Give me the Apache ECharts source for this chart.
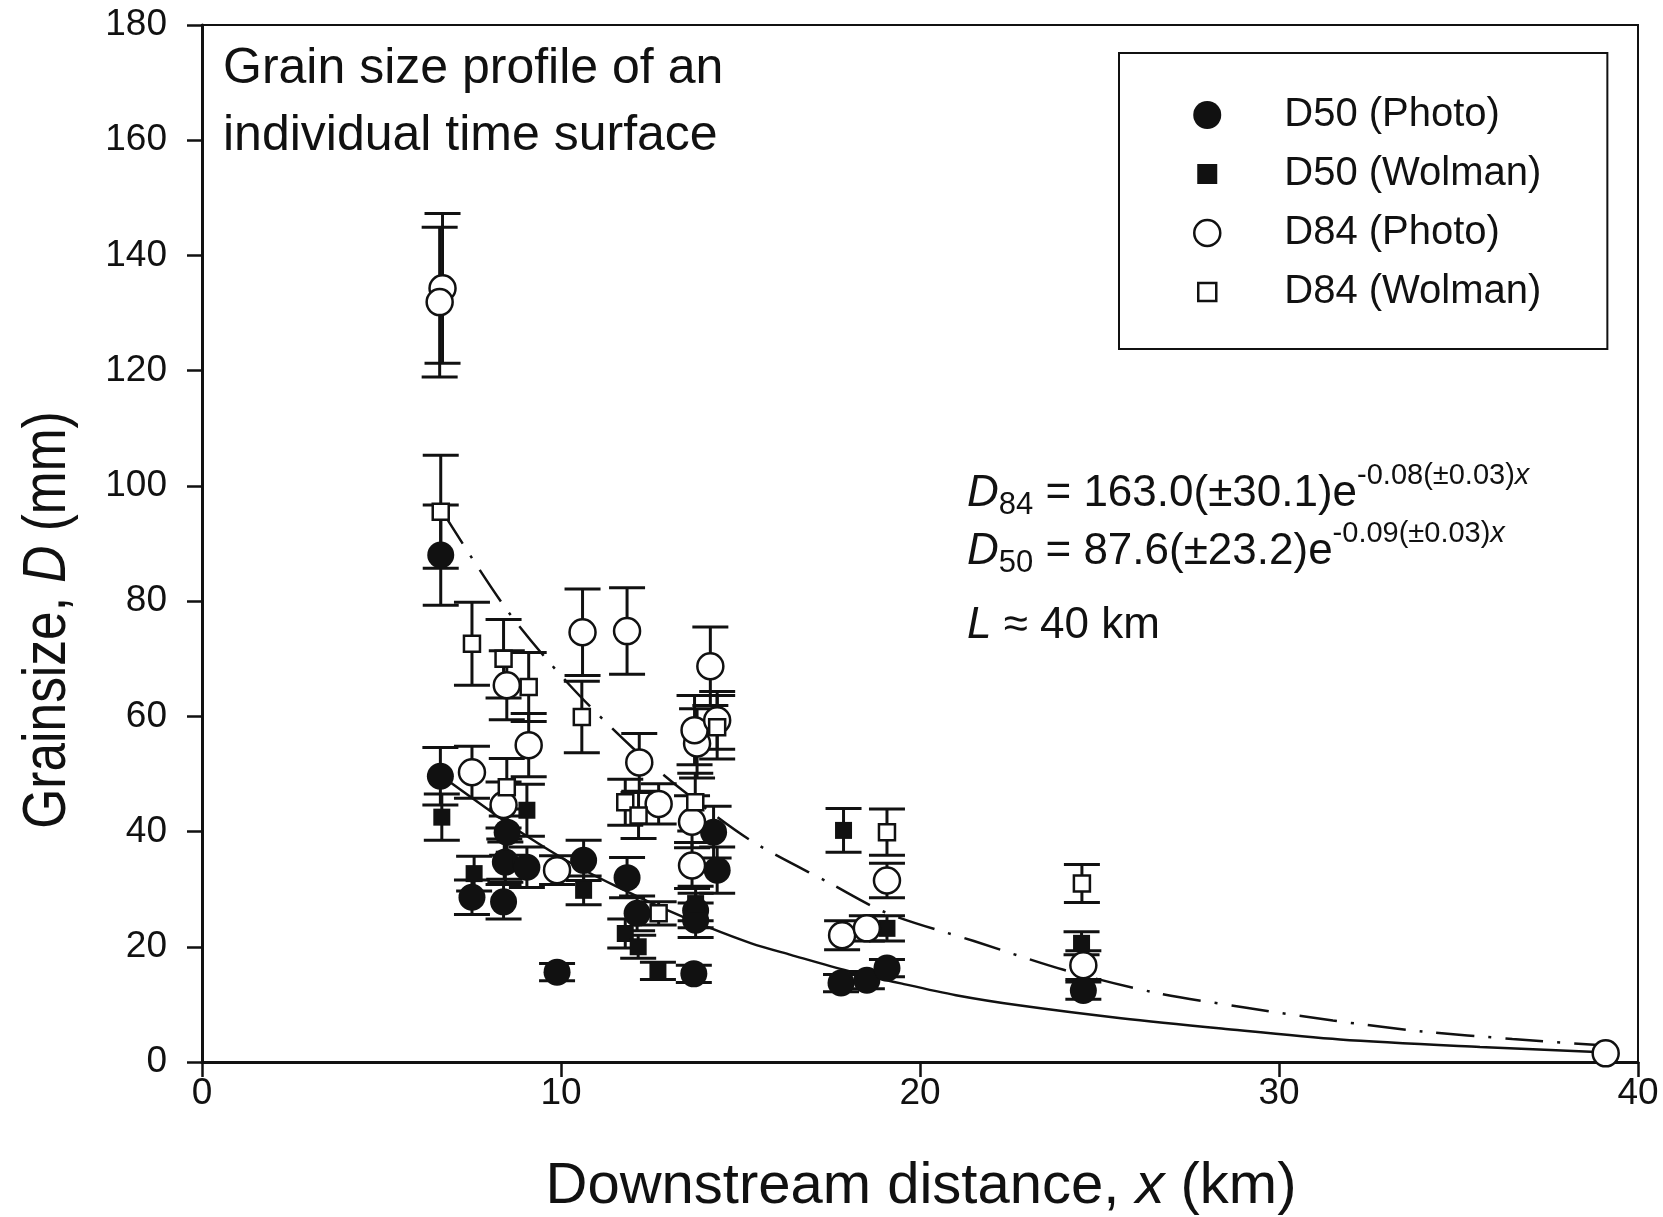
<!DOCTYPE html>
<html>
<head>
<meta charset="utf-8">
<title>Grain size profile</title>
<script src="https://cdn.jsdelivr.net/npm/echarts@6/dist/echarts.min.js"></script>
<style>
html, body { margin: 0; padding: 0; background: #fff; }
#chart { width: 1663px; height: 1217px; }
</style>
</head>
<body>
<div id="chart"></div>
<script>
// values (km, mm)
var d50PhotoX   = [6.65, 6.64, 7.52, 8.40, 8.50, 8.45, 9.05, 9.89, 10.63, 11.84, 12.12, 13.70, 13.75, 13.75, 14.25, 14.35, 17.80, 18.52, 19.08, 24.55];
var d50PhotoY   = [88.0, 49.6, 28.6, 27.8, 39.9, 34.7, 33.8, 15.6, 35.0, 32.0, 25.8, 15.3, 26.3, 24.6, 39.9, 33.3, 13.7, 14.2, 16.3, 12.4];
var d50PhotoErr = [8.7, 5.0, 3.0, 3.0, 4.0, 3.5, 3.5, 1.5, 3.5, 3.5, 3.0, 1.5, 3.0, 3.0, 4.5, 4.0, 1.5, 1.5, 1.5, 1.5];

var d50WolmanX   = [6.68, 7.58, 8.42, 9.05, 10.63, 11.79, 12.15, 12.70, 13.75, 17.87, 19.08, 24.50];
var d50WolmanY   = [42.5, 32.7, 35.2, 43.7, 29.8, 22.3, 20.0, 15.8, 27.5, 40.2, 23.2, 20.6];
var d50WolmanErr = [4.0, 3.0, 3.5, 4.5, 2.5, 2.5, 2.0, 1.5, 3.0, 3.8, 2.2, 2.0];

var d84PhotoX   = [6.70, 6.62, 7.52, 8.49, 8.40, 9.10, 9.89, 10.60, 11.84, 12.18, 12.72, 13.65, 13.65, 13.79, 13.72, 14.35, 14.16, 17.83, 18.52, 19.08, 24.55, 39.10];
var d84PhotoY   = [134.3, 131.9, 50.3, 65.4, 44.6, 55.0, 33.3, 74.6, 74.8, 52.0, 44.8, 41.7, 34.1, 55.3, 57.6, 59.3, 68.7, 22.0, 23.2, 31.5, 16.8, 1.5];
var d84PhotoErr = [13, 13, 4.5, 6, 4, 5.5, 2.5, 7.5, 7.5, 5, 3.5, 4.5, 4, 6, 6, 5, 6.8, 2.5, 2.2, 3, 2.5, 0];

var d84WolmanX   = [6.65, 7.52, 8.40, 8.49, 9.10, 10.58, 11.79, 12.16, 12.72, 13.74, 14.35, 19.08, 24.51];
var d84WolmanY   = [95.5, 72.6, 70.0, 47.7, 65.1, 59.9, 45.1, 42.8, 25.8, 45.1, 58.1, 39.9, 31.0];
var d84WolmanErr = [9.8, 7.2, 6.8, 5, 6, 6.2, 4, 4, 2, 5, 5.5, 4, 3.3];

// fitted curves as drawn
var fit84X = [6.7, 8.5, 10.2, 12.0, 13.5, 15.3, 17.5, 19.1, 21.5, 24.0, 26.5, 29.0, 31.5, 34.0, 36.5, 39.0];
var fit84Y = [95.5, 78.4, 65.7, 54.5, 46.6, 38.4, 31.0, 25.8, 21.0, 16.0, 12.1, 9.5, 7.2, 5.3, 4.0, 2.9];
var fit50X = [6.7, 8.0, 9.0, 10.2, 11.5, 12.8, 14.1, 15.3, 16.4, 18.0, 19.5, 21.0, 22.8, 25.6, 28.4, 31.7, 35.6, 39.0];
var fit50Y = [49.5, 43.7, 39.4, 34.8, 30.6, 26.8, 23.4, 20.6, 18.6, 15.8, 13.6, 11.6, 9.8, 7.6, 5.8, 3.9, 2.6, 1.7];

var xTicks = [0, 10, 20, 30, 40];
var yTicks = [0, 20, 40, 60, 80, 100, 120, 140, 160, 180];

var FONT = '"Liberation Sans", Arial, sans-serif';
var INK = '#111';

function zip(xs, ys, es) {
    return xs.map(function (x, i) {
        return es ? [x, ys[i], es[i]] : [x, ys[i]];
    });
}

function errorBars(name, xs, ys, es) {
    return {
        type: 'custom',
        name: name + ' err',
        z: 2,
        silent: true,
        data: zip(xs, ys, es).filter(function (d) { return d[2] > 0; }),
        encode: { x: 0, y: 1 },
        renderItem: function (params, api) {
            var x = api.value(0), y = api.value(1), e = api.value(2);
            var top = api.coord([x, y + e]);
            var bot = api.coord([x, y - e]);
            var half = 18;
            var st = { stroke: INK, lineWidth: 3 };
            return {
                type: 'group',
                children: [
                    { type: 'line', shape: { x1: top[0], y1: top[1], x2: bot[0], y2: bot[1] }, style: st },
                    { type: 'line', shape: { x1: top[0] - half, y1: top[1], x2: top[0] + half, y2: top[1] }, style: st },
                    { type: 'line', shape: { x1: bot[0] - half, y1: bot[1], x2: bot[0] + half, y2: bot[1] }, style: st }
                ]
            };
        }
    };
}

function points(name, xs, ys, symbol, size, open) {
    return {
        type: 'scatter',
        name: name,
        z: 4,
        symbol: symbol,
        symbolSize: size,
        data: zip(xs, ys),
        itemStyle: open
            ? { color: '#fff', borderColor: INK, borderWidth: 2.5, opacity: 1 }
            : { color: INK, opacity: 1 }
    };
}

// text runs laid out with measured widths
var measureCtx = document.createElement('canvas').getContext('2d');
function fontOf(p) {
    return (p.italic ? 'italic ' : '') + p.size + 'px ' + FONT;
}
function runWidth(parts) {
    var w = 0;
    parts.forEach(function (p) {
        measureCtx.font = fontOf(p);
        w += measureCtx.measureText(p.t).width;
    });
    return w;
}
function eqLine(x0, baseline, parts) {
    var x = x0, out = [];
    parts.forEach(function (p) {
        var font = fontOf(p);
        measureCtx.font = font;
        var b = baseline + (p.dy || 0);
        out.push({
            type: 'text',
            x: x,
            y: b - 0.3465 * p.size,
            silent: true,
            style: {
                text: p.t,
                font: font,
                fill: INK,
                textAlign: 'left',
                textVerticalAlign: 'middle',
                align: 'left',
                verticalAlign: 'middle'
            }
        });
        x += measureCtx.measureText(p.t).width;
    });
    return out;
}

var eqX = 967;
var equations = []
    .concat(eqLine(eqX, 509, [
        { t: 'D', size: 44, italic: true },
        { t: '84', size: 31, dy: 7 },
        { t: ' = 163.0(\u00b130.1)e', size: 44 },
        { t: '-0.08(\u00b10.03)', size: 29, dy: -23 },
        { t: 'x', size: 29, italic: true, dy: -23 }
    ]))
    .concat(eqLine(eqX, 567, [
        { t: 'D', size: 44, italic: true },
        { t: '50', size: 31, dy: 7 },
        { t: ' = 87.6(\u00b123.2)e', size: 44 },
        { t: '-0.09(\u00b10.03)', size: 29, dy: -23 },
        { t: 'x', size: 29, italic: true, dy: -23 }
    ]))
    .concat(eqLine(eqX, 641, [
        { t: 'L', size: 44, italic: true },
        { t: ' \u2248 40 km', size: 44 }
    ]));

// x axis title, centred under the plot
var xTitleParts = [
    { t: 'Downstream distance, ', size: 58 },
    { t: 'x', size: 58, italic: true },
    { t: ' (km)', size: 58 }
];
var xTitle = eqLine(921 - runWidth(xTitleParts) / 2, 1207, xTitleParts);

// y title: condensed look via horizontal scale of the rotated text
var yTitle = {
    type: 'text',
    x: 48,
    y: 620,
    rotation: Math.PI / 2,
    scaleX: 0.83,
    silent: true,
    style: {
        text: 'Grainsize, {i|D} (mm)',
        font: '62px ' + FONT,
        fill: INK,
        textAlign: 'center',
        textVerticalAlign: 'middle',
        align: 'center',
        verticalAlign: 'middle',
        rich: {
            i: { fontSize: 62, fontFamily: FONT, fontStyle: 'italic', fill: INK, color: INK }
        }
    }
};

var chart = echarts.init(document.getElementById('chart'), null, { renderer: 'canvas' });

chart.setOption({
    animation: false,
    backgroundColor: '#fff',
    textStyle: { fontFamily: FONT, color: INK },
    title: {
        text: 'Grain size profile of an\nindividual time surface',
        left: 223,
        top: 36,
        padding: 0,
        textStyle: { fontSize: 50, fontWeight: 'normal', fontFamily: FONT, color: INK, lineHeight: 67 }
    },
    grid: {
        left: 202, right: 25, top: 25, bottom: 155,
        containLabel: false,
        outerBoundsMode: 'none',
        show: true,
        borderColor: INK,
        borderWidth: 2,
        backgroundColor: 'transparent'
    },
    legend: {
        orient: 'vertical',
        left: 1119,
        top: 53,
        padding: [42, 66, 37, 73],
        itemWidth: 144,
        itemHeight: 28,
        itemGap: 19,
        selectedMode: false,
        borderColor: INK,
        borderWidth: 2,
        backgroundColor: '#fff',
        textStyle: { fontSize: 40, fontFamily: FONT, color: INK, lineHeight: 40 },
        data: [
            { name: 'D50 (Photo)', icon: 'circle', itemStyle: { color: INK } },
            { name: 'D50 (Wolman)', icon: 'path://M0 0M28 28M4 4h20v20h-20z', itemStyle: { color: INK } },
            { name: 'D84 (Photo)', icon: 'path://M0 0M28 28M14 1a13 13 0 1 0 0.01 0z', itemStyle: { color: '#fff', borderColor: INK, borderWidth: 2.5 } },
            { name: 'D84 (Wolman)', icon: 'path://M0 0M28 28M5 5h18v18h-18z', itemStyle: { color: '#fff', borderColor: INK, borderWidth: 2.5 } }
        ]
    },
    xAxis: {
        type: 'value',
        min: xTicks[0],
        max: xTicks[xTicks.length - 1],
        interval: 10,
        axisLine: { show: true, onZero: false, lineStyle: { color: INK, width: 3 } },
        axisTick: { show: true, inside: false, length: 15, lineStyle: { color: INK, width: 2.5 } },
        axisLabel: { fontSize: 37, fontFamily: FONT, color: INK, margin: 13 },
        splitLine: { show: false }
    },
    yAxis: {
        type: 'value',
        min: yTicks[0],
        max: yTicks[yTicks.length - 1],
        interval: 20,
        axisLine: { show: true, onZero: false, lineStyle: { color: INK, width: 3 } },
        axisTick: { show: true, inside: false, length: 15, lineStyle: { color: INK, width: 2.5 } },
        axisLabel: { fontSize: 37, fontFamily: FONT, color: INK, margin: 35 },
        splitLine: { show: false }
    },
    graphic: { elements: equations.concat(xTitle, [yTitle]) },
    series: [
        errorBars('D50 (Photo)', d50PhotoX, d50PhotoY, d50PhotoErr),
        errorBars('D50 (Wolman)', d50WolmanX, d50WolmanY, d50WolmanErr),
        errorBars('D84 (Photo)', d84PhotoX, d84PhotoY, d84PhotoErr),
        errorBars('D84 (Wolman)', d84WolmanX, d84WolmanY, d84WolmanErr),
        {
            type: 'line', name: 'D84 fit', z: 3, silent: true, showSymbol: false, smooth: 0.3,
            data: zip(fit84X, fit84Y),
            lineStyle: { color: INK, width: 2.5, type: [38, 14, 3, 14] }
        },
        {
            type: 'line', name: 'D50 fit', z: 3, silent: true, showSymbol: false, smooth: 0.3,
            data: zip(fit50X, fit50Y),
            lineStyle: { color: INK, width: 2.5, type: 'solid' }
        },
        points('D50 (Photo)', d50PhotoX, d50PhotoY, 'circle', 27, false),
        points('D50 (Wolman)', d50WolmanX, d50WolmanY, 'rect', 17, false),
        points('D84 (Photo)', d84PhotoX, d84PhotoY, 'circle', 26, true),
        points('D84 (Wolman)', d84WolmanX, d84WolmanY, 'rect', 16, true)
    ]
});
</script>
</body>
</html>
